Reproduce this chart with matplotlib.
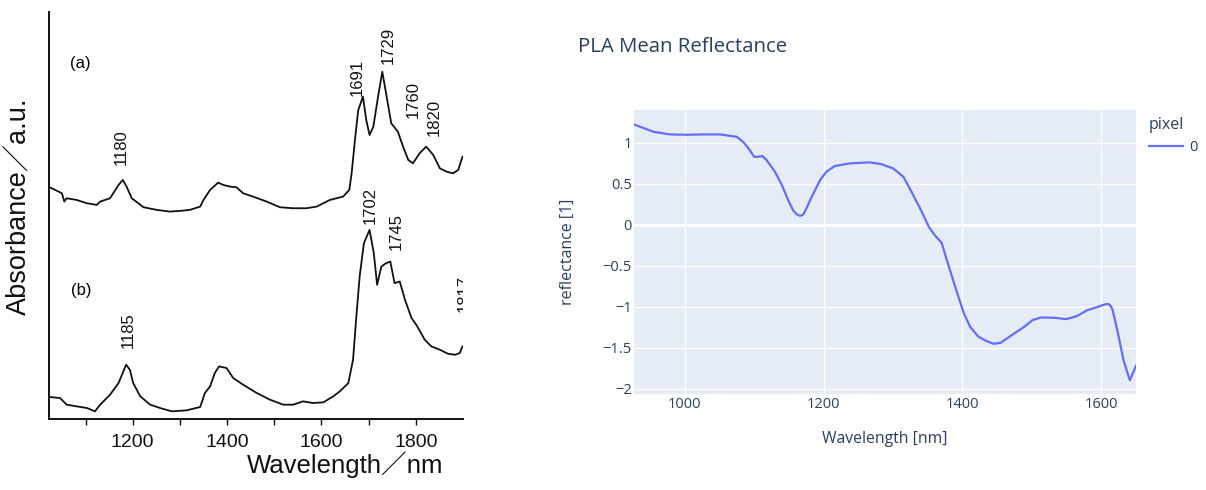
import matplotlib
matplotlib.use("Agg")
import matplotlib.pyplot as plt
from matplotlib.ticker import FixedLocator, FuncFormatter
from matplotlib.lines import Line2D

# left panel: NIR absorbance spectra, arbitrary units (a) and (b)
wl_a = [1024, 1050, 1055, 1060, 1081, 1103, 1124, 1131, 1152, 1170, 1179, 1187,
        1198, 1223, 1251, 1279, 1300, 1321, 1343, 1350, 1364, 1381, 1392, 1406,
        1420, 1434, 1455, 1484, 1512, 1540, 1568, 1590, 1618, 1646, 1659, 1664,
        1671, 1678, 1688, 1695, 1702, 1710, 1720, 1729, 1737, 1748, 1762, 1773,
        1784, 1794, 1808, 1822, 1837, 1851, 1865, 1879, 1890, 1899]
abs_a = [6.96, 6.78, 6.53, 6.63, 6.58, 6.48, 6.43, 6.53, 6.63, 7.03, 7.18, 6.98,
         6.63, 6.36, 6.28, 6.23, 6.25, 6.28, 6.38, 6.58, 6.88, 7.10, 7.03, 6.98,
         6.96, 6.78, 6.68, 6.53, 6.36, 6.33, 6.33, 6.38, 6.58, 6.68, 6.88, 7.38,
         8.38, 9.28, 9.68, 8.98, 8.53, 8.78, 9.68, 10.43, 9.78, 8.88, 8.63, 8.18,
         7.78, 7.68, 7.98, 8.18, 7.93, 7.53, 7.43, 7.38, 7.48, 7.88]

wl_b = [1024, 1046, 1060, 1081, 1103, 1120, 1131, 1152, 1170, 1186, 1194, 1201,
        1216, 1237, 1258, 1283, 1314, 1343, 1353, 1364, 1374, 1383, 1399, 1413,
        1434, 1463, 1491, 1519, 1540, 1561, 1582, 1604, 1625, 1639, 1657, 1667,
        1674, 1681, 1690, 1702, 1711, 1718, 1727, 1737, 1746, 1755, 1766, 1777,
        1791, 1801, 1819, 1833, 1851, 1868, 1883, 1893, 1899]
abs_b = [0.66, 0.63, 0.43, 0.38, 0.33, 0.23, 0.43, 0.73, 1.08, 1.63, 1.48, 1.08,
         0.68, 0.43, 0.33, 0.23, 0.26, 0.36, 0.78, 0.98, 1.38, 1.58, 1.53, 1.23,
         1.03, 0.78, 0.58, 0.43, 0.43, 0.53, 0.48, 0.50, 0.68, 0.83, 1.08, 1.78,
         3.08, 4.28, 5.28, 5.68, 4.98, 4.03, 4.58, 4.68, 4.73, 4.08, 4.13, 3.58,
         3.03, 2.83, 2.38, 2.18, 2.08, 1.96, 1.93, 1.98, 2.18]

peak_labels = ["1180", "1691", "1729", "1760", "1820", "1702", "1745", "1185", "1817"]
peak_x = [1176, 1675, 1741, 1794, 1840, 1703, 1759, 1191, 1902]
peak_y = [8.16, 10.26, 11.21, 9.61, 9.06, 6.41, 5.63, 2.66, 3.78]

# right panel: PLA mean reflectance
wl_pla = [927, 955, 979, 1003, 1027, 1051, 1075, 1084, 1092, 1100, 1105, 1112,
          1118, 1130, 1140, 1149, 1156, 1161, 1166, 1170, 1173, 1183, 1195, 1204,
          1216, 1238, 1267, 1283, 1300, 1315, 1324, 1339, 1352, 1360, 1370, 1379,
          1391, 1402, 1411, 1423, 1435, 1445, 1455, 1471, 1489, 1501, 1513, 1532,
          1550, 1565, 1580, 1593, 1602, 1607, 1610, 1613, 1616, 1623, 1632, 1641,
          1650]
refl_pla = [1.224, 1.134, 1.102, 1.098, 1.102, 1.102, 1.073, 1.012, 0.932, 0.829,
            0.829, 0.838, 0.789, 0.646, 0.484, 0.301, 0.178, 0.130, 0.110, 0.118,
            0.159, 0.341, 0.545, 0.646, 0.716, 0.749, 0.761, 0.740, 0.688, 0.585,
            0.444, 0.200, -0.032, -0.126, -0.220, -0.471, -0.796, -1.080, -1.244,
            -1.366, -1.420, -1.452, -1.440, -1.347, -1.245, -1.163, -1.131, -1.135,
            -1.151, -1.114, -1.041, -1.008, -0.980, -0.968, -0.967, -0.985, -1.033,
            -1.286, -1.653, -1.898, -1.720]

fig = plt.figure(figsize=(12.06, 4.9), dpi=100)

# ---- left: scanned-paper style spectra
lfont = ['Liberation Sans', 'Noto Sans CJK JP', 'DejaVu Sans']
ax1 = fig.add_axes([0.0404, 0.1449, 0.3435, 0.831])
ax1.plot(wl_a, abs_a, color='#111111', lw=1.3)
ax1.plot(wl_b, abs_b, color='#111111', lw=1.3)
ax1.set_xlim(1022, 1900)
ax1.set_ylim(0, 12.23)
for s in ['top', 'right']:
    ax1.spines[s].set_visible(False)
for s in ['left', 'bottom']:
    ax1.spines[s].set_linewidth(1.4)
    ax1.spines[s].set_color('#111111')
ax1.set_yticks([])
ax1.xaxis.set_major_locator(FixedLocator([1200, 1400, 1600, 1800]))
ax1.xaxis.set_minor_locator(FixedLocator([1100, 1300, 1500, 1700]))
ax1.tick_params(axis='x', which='both', direction='out', length=4.5, width=1,
                color='#111111', pad=6)
ax1.tick_params(axis='x', labelsize=14)
for lab in ax1.get_xticklabels():
    lab.set_family(lfont)
    lab.set_color('#111111')

for t, x, y in zip(peak_labels, peak_x, peak_y):
    ax1.text(x, y, t, rotation=90, ha='center', va='center', fontsize=12,
             family=lfont, color='#111111', clip_on=True)
ax1.text(1089, 10.68, "(a)", ha='center', va='center', fontsize=12, family=lfont)
ax1.text(1090, 3.86, "(b)", ha='center', va='center', fontsize=12, family=lfont)

ax1.text(0.715, -0.1327, "Wavelength／nm", transform=ax1.transAxes, ha='center',
         va='baseline', fontsize=18.5, family=lfont, color='#111111')
ax1.text(-0.070, 0.522, "Absorbance／a.u.", transform=ax1.transAxes, rotation=90,
         ha='center', va='center', fontsize=19.5, family=lfont, color='#111111')

# ---- right: plotly style reflectance
pfont = ['Open Sans', 'DejaVu Sans']
txt = '#2a3f5f'
ax2 = fig.add_axes([0.5257, 0.1959, 0.4163, 0.5796])
ax2.set_facecolor('#e5ecf6')
for s in ax2.spines.values():
    s.set_visible(False)
ax2.set_axisbelow(True)
ax2.grid(True, color='white', lw=1.0)
ax2.axhline(0, color='white', lw=2.0, zorder=1)
ax2.plot(wl_pla, refl_pla, color='#636efa', lw=1.6, zorder=3,
         solid_joinstyle='round')
ax2.set_xlim(927, 1650)
ax2.set_ylim(-2.065, 1.40)
ax2.set_xticks([1000, 1200, 1400, 1600])
ax2.set_yticks([1, 0.5, 0, -0.5, -1, -1.5, -2])
ax2.yaxis.set_major_formatter(FuncFormatter(lambda v, p: f"{v:g}".replace('-', '\u2212')))
ax2.tick_params(length=0, labelsize=10.5, labelcolor=txt)
ax2.tick_params(axis='y', pad=1.5)
ax2.tick_params(axis='x', pad=2)
for lab in ax2.get_xticklabels() + ax2.get_yticklabels():
    lab.set_family(pfont)

ax2.set_xlabel("Wavelength [nm]", fontsize=11.3, color=txt, family=pfont, labelpad=13.5)
ax2.set_ylabel("reflectance [1]", fontsize=11.5, color=txt, family=pfont, labelpad=19)
fig.text(578 / 1206, 1 - 47 / 490, "PLA Mean Reflectance", ha='left', va='center',
         fontsize=14.7, color=txt, family=pfont)

handle = Line2D([], [], color='#636efa', lw=1.6)
leg = ax2.legend([handle], ["0"], title="pixel", loc='upper left',
                 bbox_to_anchor=(1.026, 0.975), frameon=False, borderpad=0,
                 borderaxespad=0, handlelength=2.3, handletextpad=0.45,
                 alignment='left', prop={'family': pfont, 'size': 10.5},
                 title_fontproperties={'family': pfont, 'size': 11.5})
leg.get_title().set_color(txt)
for t in leg.get_texts():
    t.set_color(txt)

fig.savefig("out.png", dpi=100)
